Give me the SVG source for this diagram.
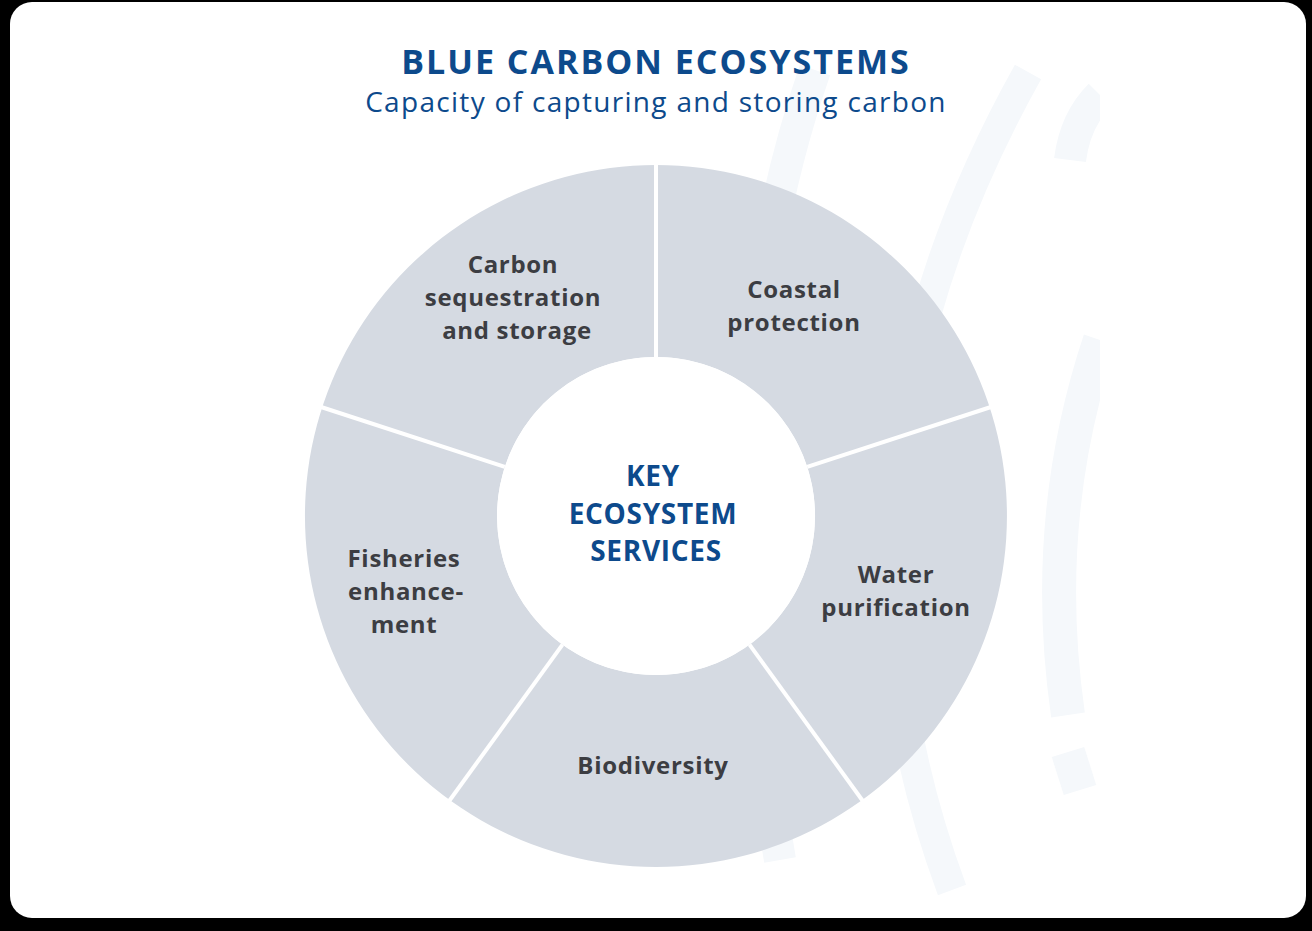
<svg xmlns="http://www.w3.org/2000/svg" width="1312" height="931" viewBox="0 0 1312 931">
<defs>
<style>
.lbl{font-family:"Open Sans","Liberation Sans",sans-serif;font-weight:700;font-size:24px;fill:#3c3d42;text-anchor:middle;letter-spacing:0.7px}
.ctr{font-family:"Open Sans","Liberation Sans",sans-serif;font-weight:700;font-size:28px;fill:#0d4a8c;text-anchor:middle;letter-spacing:0.7px}
.deco{fill:none;stroke:#f5f8fb}
</style>
<clipPath id="cp"><rect x="0" y="0" width="1100" height="931"/></clipPath>
</defs>
<rect x="0" y="0" width="1312" height="931" fill="#000"/>
<rect x="10" y="2" width="1296" height="916" rx="22" fill="#fff"/>
<g id="decor" clip-path="url(#cp)">
<path class="deco" stroke-width="30" d="M1028 72 Q 800 480 952 890"/>
<path class="deco" stroke-width="32" d="M815 70 Q 700 400 780 860"/>
<path class="deco" stroke-width="32" d="M1100 95 Q 1075 120 1070 160"/>
<path class="deco" stroke-width="34" d="M1100 340 Q 1040 520 1068 715"/>
<path class="deco" stroke-width="34" d="M1068 752 L1080 790"/>
</g>
<text x="656" y="74" font-family="'Open Sans','Liberation Sans',sans-serif" font-weight="700" font-size="34" fill="#0d4a8c" text-anchor="middle" letter-spacing="2">BLUE CARBON ECOSYSTEMS</text>
<text x="656" y="112" font-family="'Open Sans','Liberation Sans',sans-serif" font-size="28" fill="#0d4a8c" text-anchor="middle" letter-spacing="1.3">Capacity of capturing and storing carbon</text>
<g id="donut">
<path fill="#d5dae2" fill-rule="evenodd" d="M656 165 A351 351 0 1 1 655.9 165 Z M656 357 A159 159 0 1 0 656.1 357 Z"/>
<circle cx="656" cy="516" r="159" fill="#fff"/>
</g>
<g id="connectors" stroke="#fff" stroke-width="4">
<line x1="656" y1="357" x2="656" y2="160"/>
<line x1="807.2" y1="466.9" x2="994" y2="406"/>
<line x1="749.5" y1="644.6" x2="865" y2="804"/>
<line x1="562.5" y1="644.6" x2="447" y2="804"/>
<line x1="504.8" y1="466.9" x2="318" y2="406"/>
</g>
<g id="n1"><text class="lbl" x="513" y="273">Carbon</text><text class="lbl" x="513" y="306">sequestration</text><text class="lbl" x="517" y="339">and storage</text></g>
<g id="n2"><text class="lbl" x="794" y="298">Coastal</text><text class="lbl" x="794" y="331">protection</text></g>
<g id="n3"><text class="lbl" x="896" y="583">Water</text><text class="lbl" x="896" y="616">purification</text></g>
<g id="n4"><text class="lbl" x="653" y="774">Biodiversity</text></g>
<g id="n5"><text class="lbl" x="404" y="567">Fisheries</text><text class="lbl" x="406" y="600">enhance-</text><text class="lbl" x="404" y="633">ment</text></g>
<g id="center"><text class="ctr" x="653" y="486">KEY</text><text class="ctr" x="653" y="524">ECOSYSTEM</text><text class="ctr" x="656" y="561">SERVICES</text></g>
</svg>
